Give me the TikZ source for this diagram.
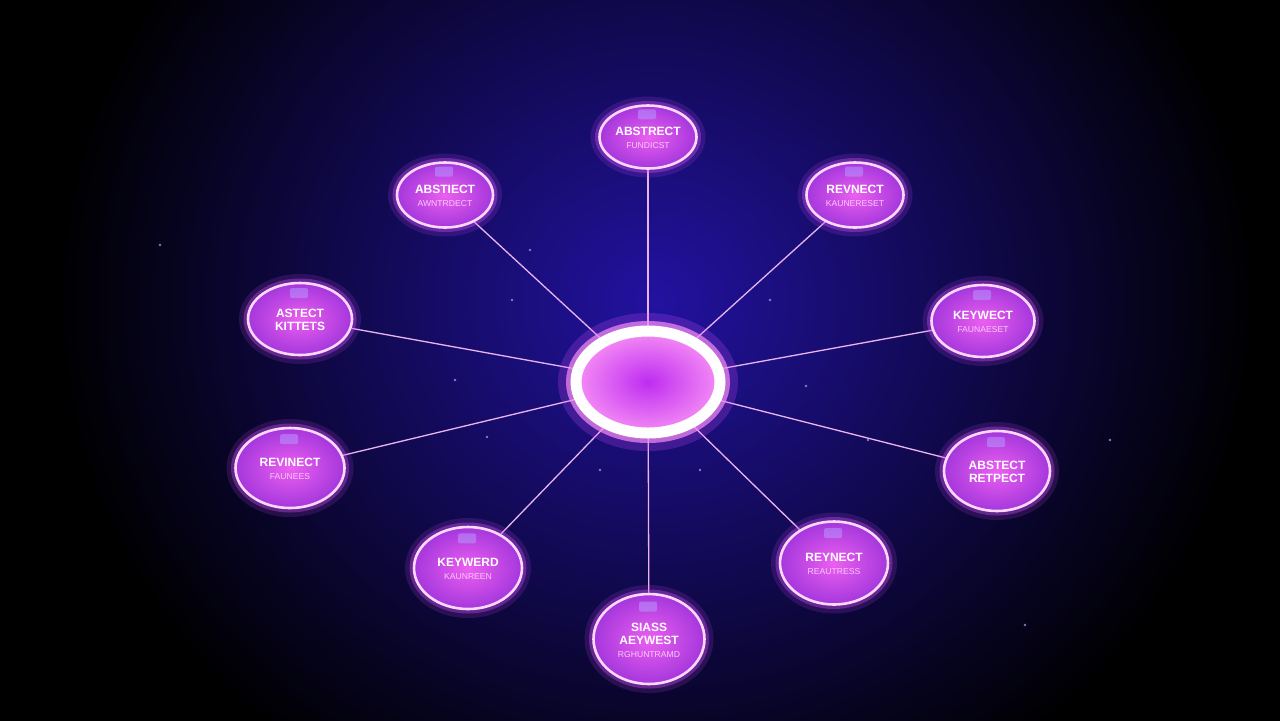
\documentclass[tikz,border=0pt]{standalone}
\usepackage{fontspec}
\setmainfont{Liberation Sans}
\usetikzlibrary{shapes.geometric}
\definecolor{bgblue}{RGB}{34,18,160}
\definecolor{nodeedge}{RGB}{252,215,255}
\definecolor{nodein}{RGB}{235,95,240}
\definecolor{nodeout}{RGB}{165,55,220}
\definecolor{linkc}{RGB}{235,180,240}
\definecolor{glowc}{RGB}{215,80,255}
\definecolor{subtxt}{RGB}{252,200,252}
\definecolor{iconc}{RGB}{185,150,255}
\definecolor{ringin}{RGB}{190,45,240}
\definecolor{ringout}{RGB}{245,140,245}
\definecolor{starc}{RGB}{200,160,255}
\pgfdeclarelayer{bg}
\pgfdeclarelayer{edges}
\pgfsetlayers{bg,edges,main}
\newcommand{\kwsub}[1]{{\fontsize{4.3}{5}\selectfont\mdseries\color{subtxt}#1}}
\begin{document}
\begin{tikzpicture}[x=0.5pt,y=-0.5pt,
  kw/.style={ellipse, draw=nodeedge, line width=1.3pt, inner color=nodein, outer color=nodeout,
    preaction={draw=glowc, line width=9pt, opacity=0.15},
    preaction={draw=glowc, line width=4.5pt, opacity=0.35}, inner sep=0pt},
  kwtext/.style={text=white, align=center, font=\bfseries\fontsize{6}{6.5}\selectfont, inner sep=0pt},
  hub/.style={ellipse, draw=white, line width=5.5pt, inner color=ringin, outer color=ringout,
    preaction={draw=glowc, line width=18pt, opacity=0.22},
    preaction={draw=ringout, line width=10pt, opacity=0.7}, inner sep=0pt},
  link/.style={draw=linkc, line width=0.65pt},
  icon/.style={fill=iconc, opacity=0.55, rounded corners=1pt}]
\useasboundingbox (0,0) rectangle (1280,720);
\begin{pgfonlayer}{bg}
\fill[black] (-10,-10) rectangle (1290,730);
\begin{scope}
\clip (-10,-10) rectangle (1290,730);
\shade[inner color=bgblue, outer color=black] (655,300) ellipse [x radius=600, y radius=560];
\foreach \p in {(512,300),(806,386),(868,440),(487,437),(530,250),(160,245),(1110,440),(1025,625),(700,470),(600,470),(455,380),(770,300)}
  \fill[starc, opacity=0.7] \p circle (1.4);
\end{scope}
\end{pgfonlayer}
\node[hub, minimum width=72pt, minimum height=51pt] (c) at (648,382) {};
\foreach \i/\x/\y/\w/\h/\t in {
  1/648/137/97/63/{ABSTRECT\\\kwsub{FUNDICST}},
  2/445/195/96/65/{ABSTIECT\\\kwsub{AWNTRDECT}},
  3/855/195/97/65/{REVNECT\\\kwsub{KAUNERESET}},
  4/300/319/104/72/{ASTECT\\KITTETS},
  5/983/321/103/72/{KEYWECT\\\kwsub{FAUNAESET}},
  6/290/468/109/80/{REVINECT\\\kwsub{FAUNEES}},
  7/997/471/106/80/{ABSTECT\\RETPECT},
  8/468/568/108/82/{KEYWERD\\\kwsub{KAUNREEN}},
  9/834/563/108/83/{REYNECT\\\kwsub{REAUTRESS}},
  10/649/639/111/90/{SIASS\\AEYWEST\\\kwsub{RGHUNTRAMD}}}{
  \node[kw, minimum width={\w*0.5pt}, minimum height={\h*0.5pt}] (n\i) at (\x,\y) {};
  \pgfmathsetmacro{\iy}{\y-0.36*\h}
  \fill[icon] (\x-10,\iy-5) rectangle (\x+8,\iy+5);
  \node[kwtext] (t\i) at (\x,\y+1) {\t};
}
\begin{pgfonlayer}{edges}
\foreach \i in {1,...,10} \draw[link] (c) -- (n\i);
\end{pgfonlayer}
\end{tikzpicture}
\end{document}
